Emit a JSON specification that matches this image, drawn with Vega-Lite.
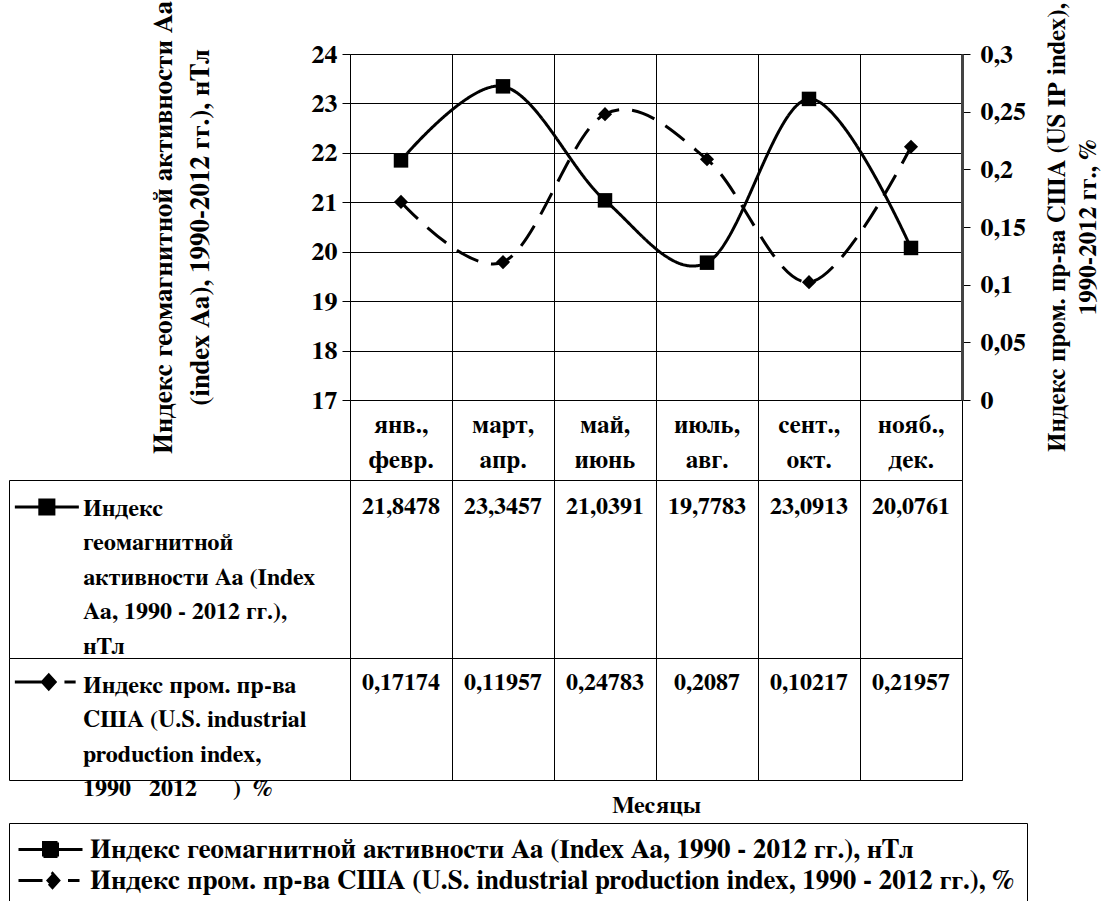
{
  "$schema": "https://vega.github.io/schema/vega-lite/v6.json",
  "padding": {"left": 8, "top": 0, "right": 5, "bottom": 5},
  "background": "white",
  "datasets": {
    "table": [
      {"month": "янв., февр.", "series": "aa", "value": 21.8478},
      {"month": "март, апр.", "series": "aa", "value": 23.3457},
      {"month": "май, июнь", "series": "aa", "value": 21.0391},
      {"month": "июль, авг.", "series": "aa", "value": 19.7783},
      {"month": "сент., окт.", "series": "aa", "value": 23.0913},
      {"month": "нояб., дек.", "series": "aa", "value": 20.0761},
      {"month": "янв., февр.", "series": "ip", "value": 0.17174},
      {"month": "март, апр.", "series": "ip", "value": 0.11957},
      {"month": "май, июнь", "series": "ip", "value": 0.24783},
      {"month": "июль, авг.", "series": "ip", "value": 0.2087},
      {"month": "сент., окт.", "series": "ip", "value": 0.10217},
      {"month": "нояб., дек.", "series": "ip", "value": 0.21957}
    ],
    "rows": [
      {"series": "aa", "head": "Индекс\nгеомагнитной\nактивности Аа (Index\nАа, 1990 - 2012 гг.),\nнТл"},
      {"series": "ip", "head": "Индекс пром. пр-ва\nСША (U.S. industrial\nproduction index,\n1990\u00a0\u00a0\u00a02012\u00a0\u00a0\u00a0\u00a0\u00a0\u00a0)\u00a0\u00a0%"}
    ]
  },
  "columns": 2,
  "spacing": 0,
  "bounds": "flush",
  "concat": [
    {
      "width": 341,
      "height": 346,
      "data": {"values": [{}]},
      "mark": {"type": "text", "text": ""}
    },
    {
      "width": 612,
      "height": 346,
      "data": {"name": "table"},
      "encoding": {
        "x": {
          "field": "month", "type": "nominal", "sort": null, "bandPosition": 0.5,
          "scale": {"type": "band", "paddingInner": 0, "paddingOuter": 0},
          "axis": {"title": null, "labels": false, "ticks": false, "domain": false, "grid": true, "tickBand": "extent"}
        }
      },
      "layer": [
        {
          "transform": [{"filter": "datum.series === 'aa'"}],
          "mark": {"type": "line", "interpolate": "cardinal", "strokeWidth": 3, "color": "black"},
          "encoding": {
            "y": {
              "field": "value", "type": "quantitative",
              "scale": {"domain": [17, 24], "nice": false, "zero": false},
              "axis": {
                "orient": "left", "values": [17, 18, 19, 20, 21, 22, 23, 24], "grid": true,
                "tickSize": 8, "labelFontSize": 26, "labelPadding": 5,
                "title": ["Индекс геомагнитной активности Аа", "(index Аа), 1990-2012 гг.), нТл"],
                "titleFontSize": 27, "titlePadding": 96, "titleLineHeight": 37
              }
            },
            "strokeDash": {
              "datum": "Индекс геомагнитной активности Аа (Index Aa, 1990 - 2012 гг.), нТл",
              "scale": {
                "domain": [
                  "Индекс геомагнитной активности Аа (Index Aa, 1990 - 2012 гг.), нТл",
                  "Индекс пром. пр-ва США (U.S. industrial production index, 1990 - 2012 гг.), %"
                ],
                "range": [[1, 0], [24, 13]]
              },
              "legend": {
                "orient": "none", "legendX": 0, "legendY": 769, "title": null,
                "direction": "vertical", "strokeColor": "black", "fillColor": "white", "padding": 13,
                "labelFont": "FreeSerif", "labelFontWeight": "bold", "labelFontSize": 27,
                "labelColor": "black", "labelLimit": 2000, "labelOffset": 26,
                "symbolSize": 400, "symbolOffset": 15, "symbolStrokeWidth": 3, "rowPadding": 3,
                "symbolStrokeColor": "black", "symbolFillColor": "black", "symbolDash": [1, 0],
                "encoding": {
                  "symbols": {
                    "shape": {"value": {"expr": "indexof(datum.label, 'геомагнитной') >= 0 ? 'M-3.2,0H3.2M-0.7,-0.7H0.7V0.7H-0.7Z' : 'M-3.2,0H-0.4M0.2,-0.7L0.83,0L0.2,0.7L-0.45,0ZM1.75,0H2.9'"}},
                    "strokeDash": {"value": [1, 0]},
                    "fill": {"value": "black"},
                    "stroke": {"value": "black"},
                    "strokeWidth": {"value": 3},
                    "opacity": {"value": 1}
                  }
                }
              }
            }
          }
        },
        {
          "transform": [{"filter": "datum.series === 'aa'"}],
          "mark": {"type": "point", "shape": "square", "filled": true, "size": 210, "color": "black", "opacity": 1},
          "encoding": {
            "y": {"field": "value", "type": "quantitative", "scale": {"domain": [17, 24], "nice": false, "zero": false}, "axis": null}
          }
        },
        {
          "transform": [{"filter": "datum.series === 'ip'"}],
          "mark": {"type": "line", "interpolate": "cardinal", "strokeWidth": 3, "color": "black"},
          "encoding": {
            "y": {
              "field": "value", "type": "quantitative",
              "scale": {"domain": [0, 0.3], "nice": false},
              "axis": {
                "orient": "right", "values": [0, 0.05, 0.1, 0.15, 0.2, 0.25, 0.3], "format": "~g",
                "grid": false, "tickSize": 8, "labelFontSize": 26, "labelPadding": 10,
                "domainWidth": 3, "domainColor": "#444",
                "title": ["Индекс пром. пр-ва США (US IP index),", "1990-2012 гг., %"],
                "titleFontSize": 25, "titleAngle": 270, "titleBaseline": "top", "titlePadding": -12, "titleLineHeight": 31
              }
            },
            "strokeDash": {"datum": "Индекс пром. пр-ва США (U.S. industrial production index, 1990 - 2012 гг.), %"}
          }
        },
        {
          "transform": [{"filter": "datum.series === 'ip'"}],
          "mark": {"type": "point", "shape": "diamond", "filled": true, "size": 200, "color": "black", "opacity": 1},
          "encoding": {
            "y": {"field": "value", "type": "quantitative", "scale": {"domain": [0, 0.3], "nice": false}, "axis": null}
          }
        }
      ],
      "resolve": {"scale": {"y": "independent"}}
    },
    {
      "width": 341,
      "height": 80,
      "data": {"values": [{}]},
      "mark": {"type": "text", "text": ""}
    },
    {
      "width": 612,
      "height": 80,
      "data": {"name": "table"},
      "transform": [{"filter": "datum.series === 'aa'"}],
      "mark": {"type": "text", "lineBreak": " ", "lineHeight": 35, "fontSize": 25, "baseline": "middle"},
      "encoding": {
        "x": {
          "field": "month", "type": "nominal", "sort": null, "bandPosition": 0.5,
          "scale": {"type": "band", "paddingInner": 0, "paddingOuter": 0},
          "axis": {"title": null, "labels": false, "ticks": false, "domain": false, "grid": true, "tickBand": "extent"}
        },
        "y": {"field": "series", "type": "nominal", "bandPosition": 0.31, "scale": {"type": "band", "paddingInner": 0, "paddingOuter": 0}, "axis": null},
        "text": {"field": "month", "type": "nominal"}
      }
    },
    {
      "width": 341,
      "height": 178,
      "view": {"stroke": "black", "strokeWidth": 1},
      "data": {"name": "rows"},
      "transform": [{"filter": "datum.series === 'aa'"}],
      "encoding": {
        "y": {"field": "series", "type": "nominal", "scale": {"type": "band", "paddingInner": 0, "paddingOuter": 0}, "axis": null}
      },
      "layer": [
        {
          "mark": {"type": "point", "shape": "M-1,0H1M-0.22,-0.22H0.22V0.22H-0.22Z", "filled": true, "size": 4096, "color": "black", "stroke": "black", "strokeWidth": 3, "opacity": 1},
          "encoding": {
            "x": {"field": "series", "type": "nominal", "bandPosition": 0.111, "scale": {"type": "band", "paddingInner": 0, "paddingOuter": 0}, "axis": null},
            "y": {"field": "series", "type": "nominal", "bandPosition": 0.152, "axis": null}
          }
        },
        {
          "mark": {"type": "text", "align": "left", "baseline": "top", "lineBreak": "\n", "lineHeight": 34.5, "fontSize": 24},
          "encoding": {
            "x": {"field": "series", "type": "nominal", "bandPosition": 0.217, "scale": {"type": "band", "paddingInner": 0, "paddingOuter": 0}, "axis": null},
            "y": {"field": "series", "type": "nominal", "bandPosition": 0.095, "axis": null},
            "text": {"field": "head", "type": "nominal"}
          }
        }
      ]
    },
    {
      "width": 612,
      "height": 178,
      "view": {"stroke": "black", "strokeWidth": 1},
      "data": {"name": "table"},
      "transform": [{"filter": "datum.series === 'aa'"}],
      "mark": {"type": "text", "fontSize": 24, "baseline": "middle"},
      "encoding": {
        "x": {
          "field": "month", "type": "nominal", "sort": null, "bandPosition": 0.5,
          "scale": {"type": "band", "paddingInner": 0, "paddingOuter": 0},
          "axis": {"title": null, "labels": false, "ticks": false, "domain": false, "grid": true, "tickBand": "extent"}
        },
        "y": {"field": "series", "type": "nominal", "bandPosition": 0.152, "scale": {"type": "band", "paddingInner": 0, "paddingOuter": 0}, "axis": null},
        "text": {"field": "value", "type": "quantitative", "format": "~g"}
      }
    },
    {
      "width": 341,
      "height": 122,
      "view": {"stroke": "black", "strokeWidth": 1},
      "data": {"name": "rows"},
      "transform": [{"filter": "datum.series === 'ip'"}],
      "encoding": {
        "y": {"field": "series", "type": "nominal", "scale": {"type": "band", "paddingInner": 0, "paddingOuter": 0}, "axis": null}
      },
      "layer": [
        {
          "mark": {"type": "point", "shape": "M-1,0H-0.12M0.06,-0.22L0.26,0L0.06,0.22L-0.14,0ZM0.55,0H0.9", "filled": true, "size": 4096, "color": "black", "stroke": "black", "strokeWidth": 3, "opacity": 1},
          "encoding": {
            "x": {"field": "series", "type": "nominal", "bandPosition": 0.111, "scale": {"type": "band", "paddingInner": 0, "paddingOuter": 0}, "axis": null},
            "y": {"field": "series", "type": "nominal", "bandPosition": 0.197, "axis": null}
          }
        },
        {
          "mark": {"type": "text", "align": "left", "baseline": "top", "lineBreak": "\n", "lineHeight": 34.5, "fontSize": 24},
          "encoding": {
            "x": {"field": "series", "type": "nominal", "bandPosition": 0.217, "scale": {"type": "band", "paddingInner": 0, "paddingOuter": 0}, "axis": null},
            "y": {"field": "series", "type": "nominal", "bandPosition": 0.13, "axis": null},
            "text": {"field": "head", "type": "nominal"}
          }
        }
      ]
    },
    {
      "width": 612,
      "height": 122,
      "view": {"stroke": "black", "strokeWidth": 1},
      "data": {"name": "table"},
      "transform": [{"filter": "datum.series === 'ip'"}],
      "mark": {"type": "text", "fontSize": 24, "baseline": "middle"},
      "encoding": {
        "x": {
          "field": "month", "type": "nominal", "sort": null, "bandPosition": 0.5,
          "scale": {"type": "band", "paddingInner": 0, "paddingOuter": 0},
          "axis": {"title": "Месяцы", "titleFontSize": 24, "titlePadding": 13, "labels": false, "ticks": false, "tickSize": 0, "domain": false, "grid": true, "tickBand": "extent"}
        },
        "y": {"field": "series", "type": "nominal", "bandPosition": 0.205, "scale": {"type": "band", "paddingInner": 0, "paddingOuter": 0}, "axis": null},
        "text": {"field": "value", "type": "quantitative", "format": "~g"}
      }
    }
  ],
  "config": {
    "font": "FreeSerif",
    "view": {"stroke": null},
    "locale": {"number": {"decimal": ",", "thousands": " ", "grouping": [3], "currency": ["", " ₽"]}},
    "axis": {
      "labelFont": "FreeSerif", "labelFontWeight": "bold", "labelColor": "black",
      "titleFont": "FreeSerif", "titleFontWeight": "bold", "titleColor": "black",
      "domainColor": "black", "tickColor": "black", "gridColor": "black", "gridOpacity": 1, "gridWidth": 1
    },
    "text": {"font": "FreeSerif", "fontWeight": "bold", "color": "black"}
  }
}
